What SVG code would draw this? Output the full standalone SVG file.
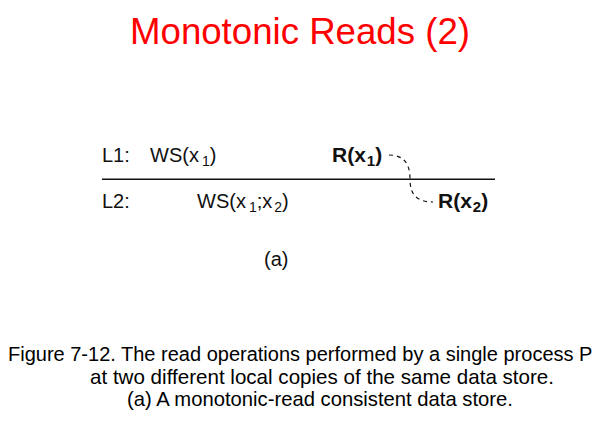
<svg xmlns="http://www.w3.org/2000/svg" width="600" height="424" viewBox="0 0 600 424">
<style>
.t{font-family:"Liberation Sans",Arial,sans-serif;fill:#111}
.lab{font-size:20px}
.b{font-weight:bold;font-size:21px}
.cap{font-size:21px;fill:#000}
.sub{font-size:14px}
.bsub{font-size:15px}
</style>
<rect width="600" height="424" fill="#fff"/>
<text x="130" y="44" textLength="340" lengthAdjust="spacingAndGlyphs" font-family="Liberation Sans, Arial, sans-serif" font-size="36.5" fill="#ff0000">Monotonic Reads (2)</text>
<g id="timeline">
<line x1="102" y1="179.3" x2="495" y2="179.3" stroke="#111" stroke-width="1.5"/>
</g>
<g id="L1">
<text class="t lab" x="102" y="162">L1:</text>
<text class="t lab" x="150" y="162">WS(x<tspan class="sub" dx="3" dy="4">1</tspan><tspan dy="-4">)</tspan></text>
</g>
<g id="R1">
<text class="t b" x="332" y="162">R(x<tspan class="bsub" dx="1" dy="4">1</tspan><tspan dy="-4">)</tspan></text>
</g>
<g id="L2">
<text class="t lab" x="102" y="208">L2:</text>
<text class="t lab" x="197" y="208">WS(x<tspan class="sub" dx="3" dy="4">1</tspan><tspan dy="-4">;x</tspan><tspan class="sub" dx="2" dy="4">2</tspan><tspan dy="-4">)</tspan></text>
</g>
<g id="R2">
<text class="t b" x="438" y="208">R(x<tspan class="bsub" dx="1" dy="4">2</tspan><tspan dy="-4">)</tspan></text>
</g>
<g id="connectors">
<path d="M389,155 C404,155 410,164 410,179 C410,194 416,202 433,202" fill="none" stroke="#111" stroke-width="1.2" stroke-dasharray="4,4"/>
</g>
<text class="t lab" x="264" y="266">(a)</text>
<g id="caption">
<text class="t cap" x="8" y="361" font-size="20" style="font-size:20px">Figure 7-12. The read operations performed by a single process P</text>
<text class="t cap" x="90" y="384" textLength="464" lengthAdjust="spacingAndGlyphs">at two different local copies of the same data store.</text>
<text class="t cap" x="127" y="406" textLength="386" lengthAdjust="spacingAndGlyphs">(a) A monotonic-read consistent data store.</text>
</g>
</svg>
